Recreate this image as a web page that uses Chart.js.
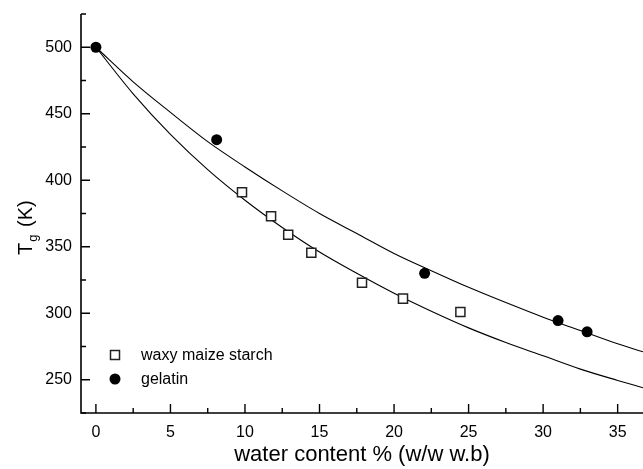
<!DOCTYPE html>
<html>
<head>
<meta charset="utf-8">
<script src="https://cdn.jsdelivr.net/npm/chart.js@4/dist/chart.umd.min.js"></script>
<style>
  html, body { margin: 0; padding: 0; background: #fff; overflow: hidden; }
  canvas { display: block; }
</style>
</head>
<body>
<canvas id="chart" width="643" height="469"></canvas>
<script>
// measured points
const starchX = [9.8, 11.75, 12.9, 14.45, 17.85, 20.6, 24.45];
const starchY = [391, 373, 359, 345.5, 323, 311, 301];
const gelatinX = [0, 8.1, 22.05, 31.0, 32.95];
const gelatinY = [500, 430.5, 330, 294.5, 286];

// fitted curves
const fitX = [0, 2.5, 5, 7.5, 10, 12.5, 15, 17.5, 20, 22.5, 25, 27.5, 30, 32.5, 35, 36.7];
const gelatinFit = [500, 474, 451, 429, 410, 392, 375, 360, 345, 332, 319.5, 308, 297, 287, 277, 271];
const starchFit = [500, 465, 434.5, 408, 385, 364.5, 346, 330, 315, 301.5, 289, 278, 268, 258, 249.5, 244];

// axis ticks
const xTicks = [0, 5, 10, 15, 20, 25, 30, 35];
const xMinor = [2.5, 7.5, 12.5, 17.5, 22.5, 27.5, 32.5];
const yTicks = [250, 300, 350, 400, 450, 500];
const yMinor = [225, 275, 325, 375, 425, 475, 525];

const legendLabels = ['waxy maize starch', 'gelatin'];

const FONT = 'Liberation Sans, Arial, sans-serif';

function pairs(xs, ys) {
    return xs.map((x, i) => ({x: x, y: ys[i]}));
}

// drop the extra room chart.js keeps for the end labels
function noPadding(scale) {
    scale.paddingTop = 0;
    scale.paddingBottom = 0;
    scale.paddingLeft = 0;
    scale.paddingRight = 0;
}

// inward ticks, axis lines, legend and the y title
const decor = {
    id: 'decor',
    afterDraw(chart) {
        const ctx = chart.ctx;
        const area = chart.chartArea;
        const xs = chart.scales.x;
        const ys = chart.scales.y;
        ctx.save();
        ctx.strokeStyle = '#000';
        ctx.lineWidth = 1.6;
        ctx.beginPath();
        ctx.moveTo(area.left, area.top);
        ctx.lineTo(area.left, area.bottom);
        ctx.lineTo(area.right, area.bottom);
        ctx.stroke();

        ctx.lineWidth = 1.4;
        ctx.beginPath();
        xTicks.forEach(v => {
            const px = xs.getPixelForValue(v);
            ctx.moveTo(px, area.bottom);
            ctx.lineTo(px, area.bottom - 9);
        });
        xMinor.forEach(v => {
            const px = xs.getPixelForValue(v);
            ctx.moveTo(px, area.bottom);
            ctx.lineTo(px, area.bottom - 5);
        });
        yTicks.forEach(v => {
            const py = ys.getPixelForValue(v);
            ctx.moveTo(area.left, py);
            ctx.lineTo(area.left + 9, py);
        });
        yMinor.forEach(v => {
            const py = ys.getPixelForValue(v);
            ctx.moveTo(area.left, py);
            ctx.lineTo(area.left + 5, py);
        });
        ctx.stroke();

        // legend
        ctx.font = '16px ' + FONT;
        ctx.textBaseline = 'middle';
        ctx.textAlign = 'left';
        ctx.fillStyle = '#fff';
        ctx.strokeStyle = '#222';
        ctx.lineWidth = 1.5;
        ctx.fillRect(110.5, 350.5, 9, 9);
        ctx.strokeRect(110.5, 350.5, 9, 9);
        ctx.fillStyle = '#000';
        ctx.beginPath();
        ctx.arc(115, 379, 5.5, 0, Math.PI * 2);
        ctx.fill();
        ctx.fillText(legendLabels[0], 141, 356);
        ctx.fillText(legendLabels[1], 141, 380);

        // y title T_g (K)
        ctx.translate(32, 255);
        ctx.rotate(-Math.PI / 2);
        ctx.textBaseline = 'alphabetic';
        ctx.font = '20px ' + FONT;
        ctx.fillText('T', 0, 0);
        const tw = ctx.measureText('T').width;
        ctx.font = '13px ' + FONT;
        ctx.fillText('g', tw + 1, 5);
        ctx.font = '20px ' + FONT;
        ctx.fillText('(K)', 28, 0);
        ctx.restore();
    }
};

const ctx = document.getElementById('chart').getContext('2d');
new Chart(ctx, {
    type: 'scatter',
    data: {
        datasets: [
            {
                label: 'gelatin',
                data: pairs(gelatinX, gelatinY),
                pointStyle: 'circle',
                pointRadius: 5.5,
                backgroundColor: '#000',
                borderColor: '#000',
                borderWidth: 0
            },
            {
                label: 'waxy maize starch',
                data: pairs(starchX, starchY),
                pointStyle: 'rect',
                pointRadius: 6.4,
                backgroundColor: '#fff',
                borderColor: '#222',
                borderWidth: 1.5
            },
            {
                label: 'gelatin fit',
                data: pairs(fitX, gelatinFit),
                showLine: true,
                pointRadius: 0,
                borderColor: '#000',
                borderWidth: 1.1,
                cubicInterpolationMode: 'monotone'
            },
            {
                label: 'starch fit',
                data: pairs(fitX, starchFit),
                showLine: true,
                pointRadius: 0,
                borderColor: '#000',
                borderWidth: 1.1,
                cubicInterpolationMode: 'monotone'
            }
        ]
    },
    options: {
        responsive: false,
        animation: false,
        devicePixelRatio: 1,
        layout: { autoPadding: false, padding: { top: 14, right: 0, left: 0, bottom: 0 } },
        plugins: {
            legend: { display: false },
            tooltip: { enabled: false }
        },
        scales: {
            x: {
                type: 'linear',
                min: -1,
                max: 36.7,
                afterBuildTicks: scale => { scale.ticks = xTicks.map(v => ({value: v})); },
                afterFit: scale => { scale.height = 56; noPadding(scale); },
                grid: { display: false, drawTicks: false },
                border: { display: false },
                ticks: {
                    color: '#000',
                    font: { family: FONT, size: 16 },
                    padding: 10,
                    maxRotation: 0
                },
                title: {
                    display: true,
                    text: 'water content % (w/w w.b)',
                    color: '#000',
                    font: { family: FONT, size: 22 },
                    padding: { top: 4, bottom: 1 }
                }
            },
            y: {
                type: 'linear',
                min: 225,
                max: 525,
                afterBuildTicks: scale => { scale.ticks = yTicks.map(v => ({value: v})); },
                afterFit: scale => { scale.width = 81; noPadding(scale); },
                grid: { display: false, drawTicks: false },
                border: { display: false },
                ticks: {
                    color: '#000',
                    font: { family: FONT, size: 16 },
                    padding: 9
                }
            }
        }
    },
    plugins: [decor]
});
</script>
</body>
</html>
